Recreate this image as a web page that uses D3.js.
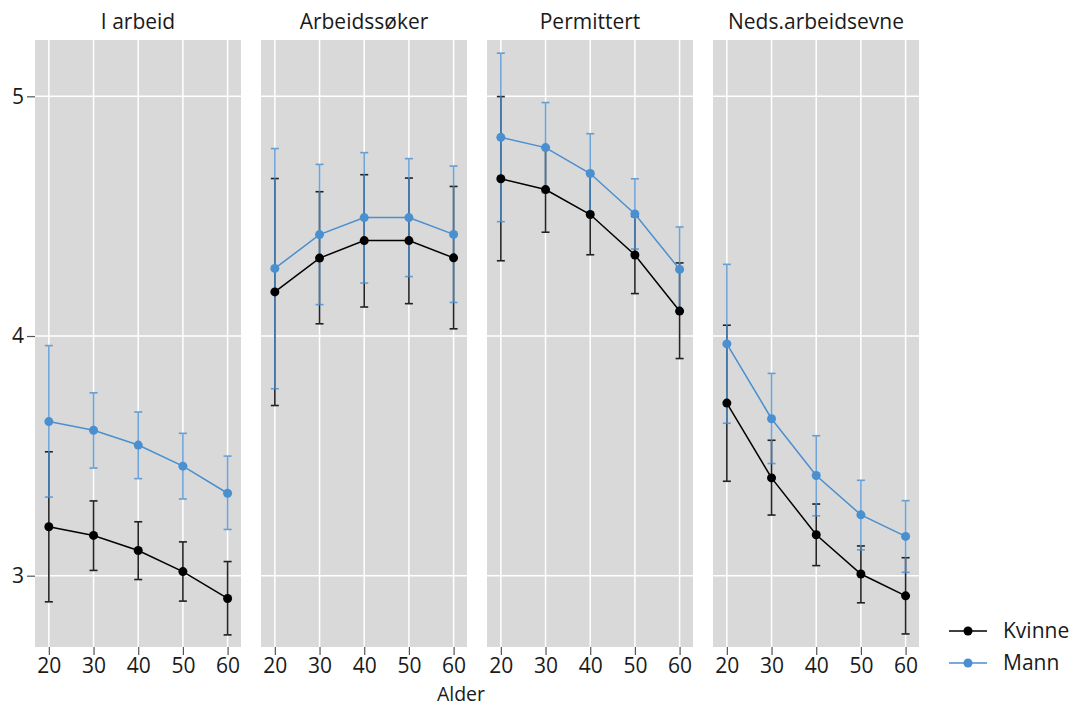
<!DOCTYPE html>
<html>
<head>
<meta charset="utf-8">
<script src="https://cdn.jsdelivr.net/npm/d3@7"></script>
<style>
  body { margin: 0; background: #fff; }
  text { font-family: "Open Sans", sans-serif; fill: #1a1a1a; }
</style>
</head>
<body>
<svg class="chart"></svg>
<script>
// values, one array per panel
var ages = [20, 30, 40, 50, 60];
var panels = ["I arbeid", "Arbeidssøker", "Permittert", "Neds.arbeidsevne"];
var yTicks = [3, 4, 5];
var groups = ["Kvinne", "Mann"];

var kvinneMean = [
  [3.204, 3.168, 3.105, 3.017, 2.905],
  [4.184, 4.325, 4.398, 4.398, 4.326],
  [4.656, 4.611, 4.507, 4.338, 4.104],
  [3.720, 3.408, 3.171, 3.007, 2.916]
];
var kvinneLow = [
  [2.891, 3.022, 2.984, 2.894, 2.753],
  [3.710, 4.051, 4.121, 4.135, 4.030],
  [4.314, 4.433, 4.339, 4.177, 3.906],
  [3.394, 3.253, 3.042, 2.887, 2.757]
];
var kvinneHigh = [
  [3.517, 3.312, 3.225, 3.141, 3.059],
  [4.657, 4.602, 4.673, 4.659, 4.624],
  [4.999, 4.789, 4.675, 4.499, 4.305],
  [4.045, 3.565, 3.299, 3.124, 3.075]
];
var mannMean = [
  [3.643, 3.607, 3.545, 3.457, 3.344],
  [4.282, 4.423, 4.494, 4.494, 4.424],
  [4.829, 4.786, 4.678, 4.509, 4.278],
  [3.967, 3.655, 3.418, 3.254, 3.164]
];
var mannLow = [
  [3.328, 3.449, 3.405, 3.320, 3.193],
  [3.780, 4.131, 4.221, 4.248, 4.140],
  [4.477, 4.598, 4.512, 4.363, 4.100],
  [3.636, 3.468, 3.250, 3.108, 3.014]
];
var mannHigh = [
  [3.960, 3.763, 3.683, 3.594, 3.499],
  [4.782, 4.716, 4.765, 4.740, 4.709],
  [5.180, 4.974, 4.844, 4.656, 4.455],
  [4.299, 3.844, 3.584, 3.398, 3.313]
];

var width = 1071, height = 707;
var panelW = 206, panelStep = 226, left0 = 35;
var plotTop = 40, plotBottom = 647;
var colors = { Kvinne: "#000000", Mann: "#4a8fd0" };
var fs = "21px";

var svg = d3.select(".chart").attr("width", width).attr("height", height);

var x = d3.scaleLinear().domain([16.9, 63.0]).range([0, panelW]);
var y = d3.scaleLinear().domain([2.7025, 5.235]).range([plotBottom, plotTop]);

function seriesFor(g, p) {
  var m = g == "Kvinne" ? kvinneMean : mannMean;
  var lo = g == "Kvinne" ? kvinneLow : mannLow;
  var hi = g == "Kvinne" ? kvinneHigh : mannHigh;
  return ages.map(function(a, i) { return { age: a, mean: m[p][i], low: lo[p][i], high: hi[p][i] }; });
}

panels.forEach(function(name, p) {
  var gp = svg.append("g").attr("transform", "translate(" + (left0 + p * panelStep) + ",0)");

  gp.append("rect")
    .attr("x", 0).attr("y", plotTop)
    .attr("width", panelW).attr("height", plotBottom - plotTop)
    .attr("fill", "#d9d9d9");

  // grid
  gp.selectAll(".vg").data(ages).enter().append("line")
    .attr("x1", d => x(d)).attr("x2", d => x(d))
    .attr("y1", plotTop).attr("y2", plotBottom)
    .attr("stroke", "#fff").attr("stroke-width", 1.5);
  gp.selectAll(".hg").data(yTicks).enter().append("line")
    .attr("x1", 0).attr("x2", panelW)
    .attr("y1", d => y(d)).attr("y2", d => y(d))
    .attr("stroke", "#fff").attr("stroke-width", 1.5);

  // facet title
  gp.append("text")
    .attr("x", panelW / 2).attr("y", 29)
    .attr("text-anchor", "middle")
    .style("font-size", fs)
    .text(name);

  // x axis
  var xa = gp.append("g")
    .attr("transform", "translate(0," + plotBottom + ")")
    .call(d3.axisBottom(x).tickValues(ages).tickSize(8).tickPadding(3));
  xa.select(".domain").remove();
  xa.selectAll("line").attr("stroke", "#555").attr("stroke-width", 1.2);
  xa.selectAll("text").style("font-size", fs).style("font-family", "Open Sans").attr("fill", "#1a1a1a");

  if (p == 0) {
    var ya = gp.append("g")
      .call(d3.axisLeft(y).tickValues(yTicks).tickFormat(d3.format("d")).tickSize(8).tickPadding(3));
    ya.select(".domain").remove();
    ya.selectAll("line").attr("stroke", "#555").attr("stroke-width", 1.2);
    ya.selectAll("text").style("font-size", fs).style("font-family", "Open Sans").attr("fill", "#1a1a1a");
  }

  // error bars first
  groups.forEach(function(g) {
    var s = seriesFor(g, p);
    var eb = gp.append("g")
      .attr("stroke", colors[g])
      .attr("stroke-width", 1.6)
      .attr("opacity", g == "Mann" ? 0.8 : 0.85);
    eb.selectAll(".v").data(s).enter().append("line")
      .attr("x1", d => x(d.age)).attr("x2", d => x(d.age))
      .attr("y1", d => y(d.low)).attr("y2", d => y(d.high));
    eb.selectAll(".lo").data(s).enter().append("line")
      .attr("x1", d => x(d.age) - 4).attr("x2", d => x(d.age) + 4)
      .attr("y1", d => y(d.low)).attr("y2", d => y(d.low));
    eb.selectAll(".hi").data(s).enter().append("line")
      .attr("x1", d => x(d.age) - 4).attr("x2", d => x(d.age) + 4)
      .attr("y1", d => y(d.high)).attr("y2", d => y(d.high));
  });

  // lines and points
  groups.forEach(function(g) {
    var s = seriesFor(g, p);
    gp.append("path")
      .datum(s)
      .attr("fill", "none")
      .attr("stroke", colors[g])
      .attr("stroke-width", 1.5)
      .attr("d", d3.line().x(d => x(d.age)).y(d => y(d.mean)));
    gp.selectAll(".pt" + g).data(s).enter().append("circle")
      .attr("cx", d => x(d.age)).attr("cy", d => y(d.mean))
      .attr("r", 4.5)
      .attr("fill", colors[g]);
  });
});

svg.append("text")
  .attr("x", 461).attr("y", 701)
  .attr("text-anchor", "middle")
  .style("font-size", "19.5px")
  .text("Alder");

// legend
var legend = svg.append("g");
groups.forEach(function(g, i) {
  var ly = 631 + i * 32;
  legend.append("line")
    .attr("x1", 949).attr("x2", 987).attr("y1", ly).attr("y2", ly)
    .attr("stroke", colors[g]).attr("stroke-width", 1.5);
  legend.append("circle")
    .attr("cx", 968).attr("cy", ly).attr("r", 4.5)
    .attr("fill", colors[g]);
  legend.append("text")
    .attr("x", 1003).attr("y", ly).attr("dy", "0.35em")
    .style("font-size", fs)
    .text(g);
});
</script>
</body>
</html>
